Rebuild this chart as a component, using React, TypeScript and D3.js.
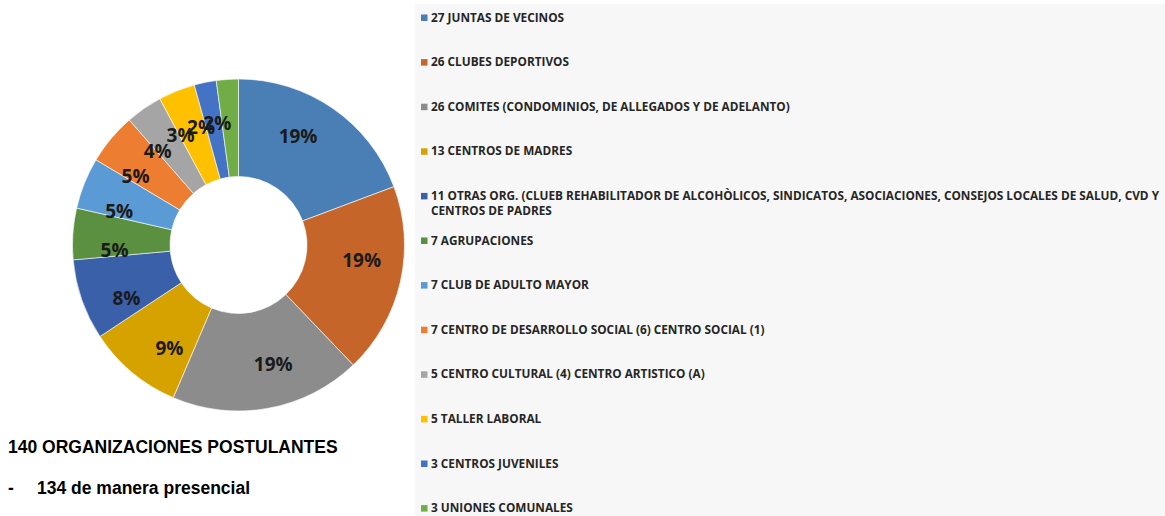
import React from "react";
import * as d3 from "d3";

// counts per organisation type (legend order = slice order)
const categories = [
  "27 JUNTAS DE VECINOS",
  "26 CLUBES DEPORTIVOS",
  "26 COMITES (CONDOMINIOS, DE ALLEGADOS Y DE ADELANTO)",
  "13 CENTROS DE MADRES",
  "11 OTRAS ORG. (CLUEB REHABILITADOR DE ALCOHÒLICOS, SINDICATOS, ASOCIACIONES, CONSEJOS LOCALES DE SALUD, CVD Y|CENTROS DE PADRES",
  "7 AGRUPACIONES",
  "7 CLUB DE ADULTO MAYOR",
  "7 CENTRO DE DESARROLLO SOCIAL (6) CENTRO SOCIAL (1)",
  "5 CENTRO CULTURAL (4) CENTRO ARTISTICO (A)",
  "5 TALLER LABORAL",
  "3 CENTROS JUVENILES",
  "3 UNIONES COMUNALES",
];
const counts = [27, 26, 26, 13, 11, 7, 7, 7, 5, 5, 3, 3];
// percentage labels as printed on the chart
const pctLabels = ["19%", "19%", "19%", "9%", "8%", "5%", "5%", "5%", "4%", "3%", "2%", "2%"];
const colors = [
  "#4a7fb5", "#c6652a", "#8c8c8c", "#d6a200", "#3a60a9", "#5a9040",
  "#5b9bd5", "#ed7d31", "#a5a5a5", "#ffc000", "#4472c4", "#70ad47",
];

const W = 1165;
const H = 516;
const cx = 238.5;
const cy = 245;
const outerR = 166;
const innerR = 68.5;

export default function App() {
  const pie = d3.pie<number>().sort(null).value((d) => d);
  const arcs = pie(counts);
  const arc = d3.arc<d3.PieArcDatum<number>>().innerRadius(innerR).outerRadius(outerR);
  // labels sit a little behind the slice middle, like in the original
  const labelR = 124;
  const labelShift = (-6 * Math.PI) / 180;

  const legendX = 421;
  const legendY0 = 21.5;
  const legendStep = 44.6;

  return (
    <div style={{ position: "absolute", left: 0, top: 0, width: W, height: H, overflow: "hidden" }}>
      <svg width={W} height={H} style={{ display: "block", background: "#ffffff" }}>
        {/* legend panel */}
        <rect x={415} y={4} width={W - 415} height={H - 4} fill="#f7f7f7" />

        <g transform={`translate(${cx},${cy})`}>
          {arcs.map((a, i) => (
            <path key={i} d={arc(a) || ""} fill={colors[i]} stroke="#ffffff" strokeWidth={0.6} />
          ))}
          {arcs.map((a, i) => {
            const ang = (a.startAngle + a.endAngle) / 2 + labelShift;
            const lx = Math.sin(ang) * labelR;
            const ly = -Math.cos(ang) * labelR;
            return (
              <text
                key={"l" + i}
                x={lx}
                y={ly}
                textAnchor="middle"
                dominantBaseline="central"
                fontFamily="'Open Sans', sans-serif"
                fontWeight={700}
                fontSize={19}
                fill="#1a1a1a"
              >
                {pctLabels[i]}
              </text>
            );
          })}
        </g>

        {categories.map((c, i) => {
          const lines = c.split("|");
          const y = legendY0 + i * legendStep;
          return (
            <g key={"lg" + i}>
              <rect x={legendX} y={y - 7} width={6.5} height={6.5} fill={colors[i]} />
              {lines.map((ln, j) => (
                <text
                  key={j}
                  x={legendX + 10}
                  y={y + j * 15.5}
                  fontFamily="'Open Sans', sans-serif"
                  fontWeight={700}
                  fontSize={11.8}
                  fill="#262626"
                >
                  {ln}
                </text>
              ))}
            </g>
          );
        })}

        <text
          x={8}
          y={453}
          fontFamily="'Liberation Sans', Arial, sans-serif"
          fontWeight={700}
          fontSize={17.5}
          fill="#000"
        >
          140 ORGANIZACIONES POSTULANTES
        </text>
        <text x={8} y={494} fontFamily="'Liberation Sans', Arial, sans-serif" fontWeight={700} fontSize={17.5} fill="#000">
          -
        </text>
        <text x={37} y={494} fontFamily="'Liberation Sans', Arial, sans-serif" fontWeight={700} fontSize={17.5} fill="#000">
          134 de manera presencial
        </text>
      </svg>
    </div>
  );
}
